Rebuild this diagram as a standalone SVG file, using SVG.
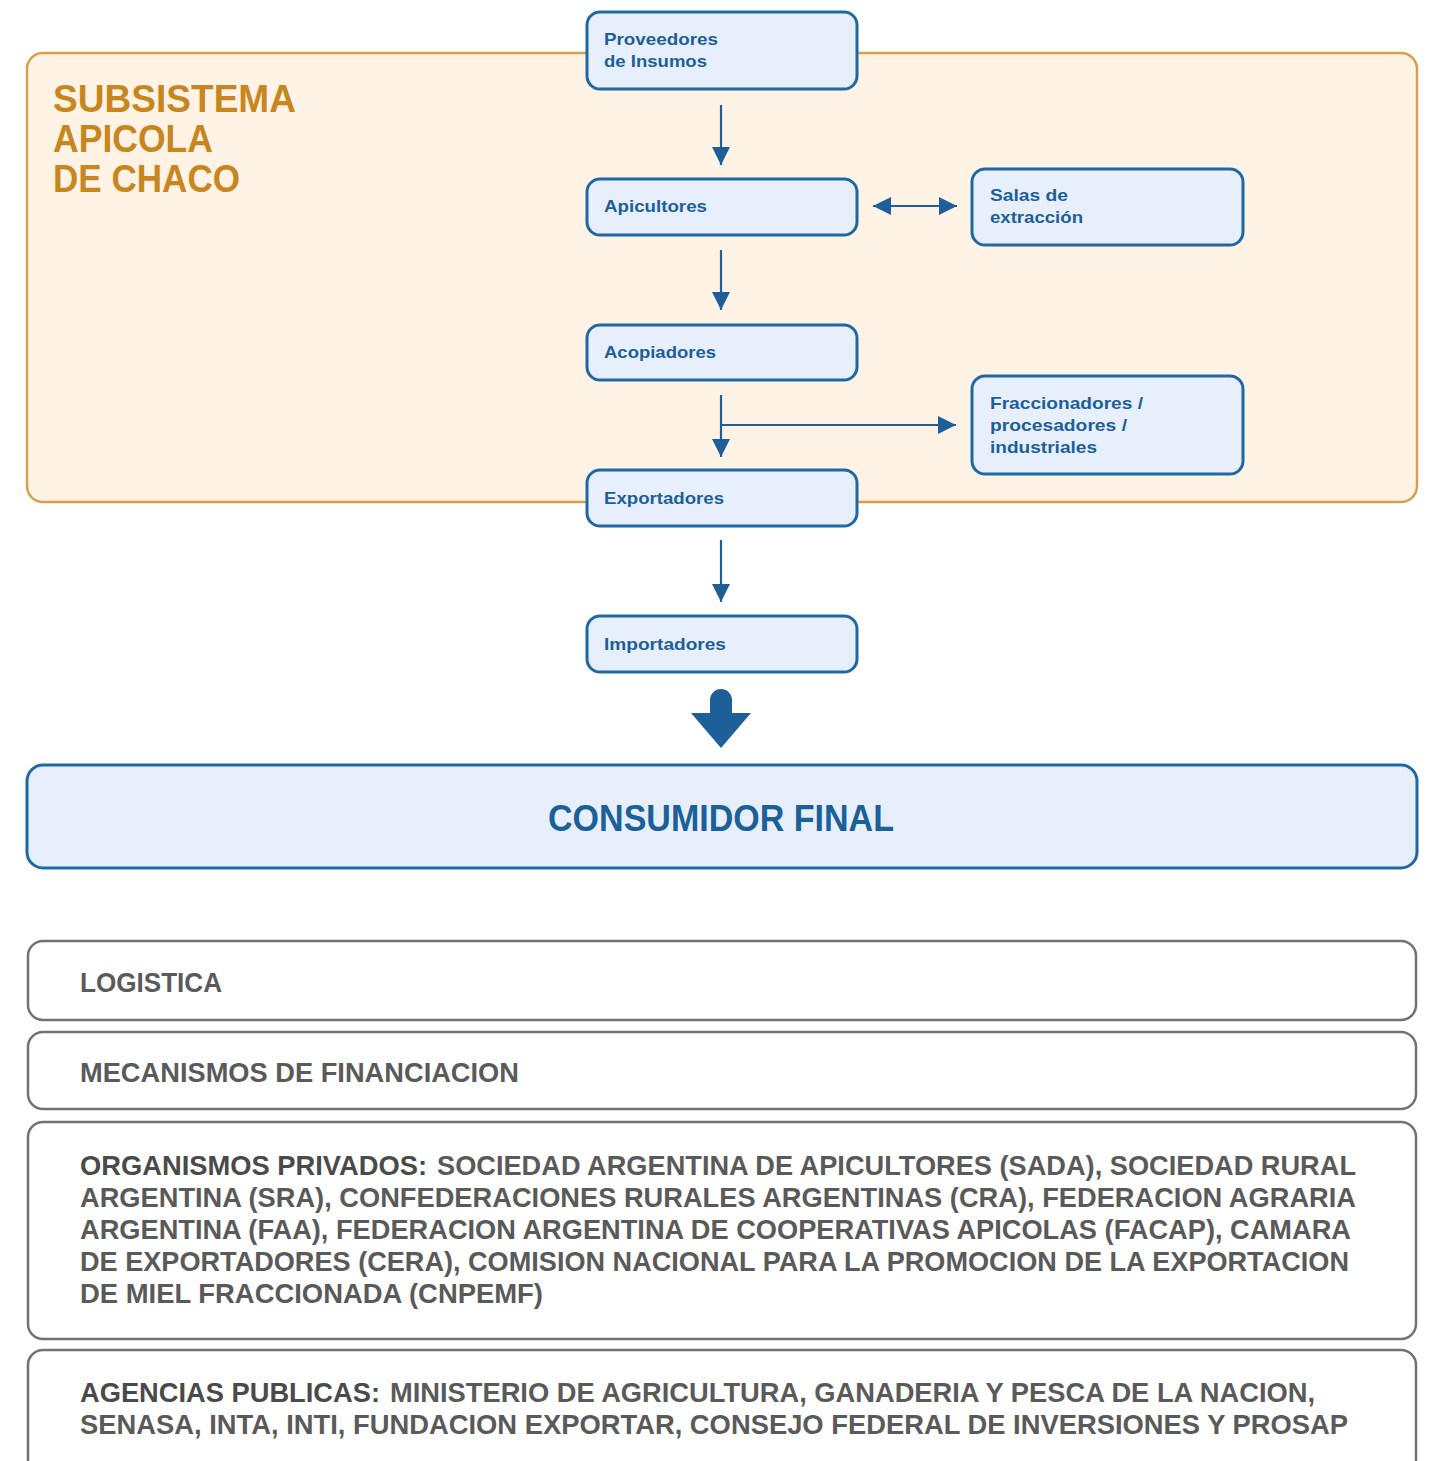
<svg xmlns="http://www.w3.org/2000/svg" width="1430" height="1461" viewBox="0 0 1430 1461">
<style>
.bg{fill:#ffffff}
.sub{fill:#fff3e6;stroke:#d9a04c;stroke-width:2.5}
.title{font-family:"Liberation Sans",Arial,sans-serif;font-weight:bold;font-size:38px;fill:#c8861e}
.node{fill:#e6effb;stroke:#1f68a3;stroke-width:3}
.nt{font-family:"Liberation Sans",Arial,sans-serif;font-weight:bold;font-size:17px;fill:#1d5f98}
.big{font-family:"Liberation Sans",Arial,sans-serif;font-weight:bold;font-size:36px;fill:#1b6199}
.gbox{fill:#ffffff;stroke:#727272;stroke-width:2.5}
.gt{font-family:"Liberation Sans",Arial,sans-serif;font-size:28px;fill:#5a5a5a;font-weight:bold}
.gb{font-family:"Liberation Sans",Arial,sans-serif;font-size:28px;fill:#4a4a4a;font-weight:bold}
.conn{stroke:#1f5f99;stroke-width:2.2;fill:none}
</style>
<defs>
<marker id="ah" viewBox="0 0 10 10" refX="10" refY="5" markerWidth="8" markerHeight="8" markerUnits="userSpaceOnUse" orient="auto-start-reverse">
<path d="M0,0 L10,5 L0,10 z" fill="#1f5f99"/>
</marker>
<marker id="ah2" viewBox="0 0 10 10" refX="10" refY="5" markerWidth="18" markerHeight="18" markerUnits="userSpaceOnUse" orient="auto-start-reverse">
<path d="M0,0 L10,5 L0,10 z" fill="#1f5f99"/>
</marker>
</defs>
<rect class="bg" x="0" y="0" width="1430" height="1461"/>

<g id="subsistema">
<rect class="sub" x="27" y="53" width="1390" height="449" rx="16"/>
<text class="title" x="53" y="112" textLength="243" lengthAdjust="spacingAndGlyphs">SUBSISTEMA</text>
<text class="title" x="53" y="152" textLength="160" lengthAdjust="spacingAndGlyphs">APICOLA</text>
<text class="title" x="53" y="192" textLength="187" lengthAdjust="spacingAndGlyphs">DE CHACO</text>
</g>

<g id="connectors">
<line class="conn" x1="721" y1="105" x2="721" y2="165" marker-end="url(#ah2)"/>
<line class="conn" x1="721" y1="250" x2="721" y2="310" marker-end="url(#ah2)"/>
<line class="conn" x1="721" y1="395" x2="721" y2="457" marker-end="url(#ah2)"/>
<line class="conn" x1="721" y1="425" x2="956" y2="425" marker-end="url(#ah2)"/>
<line class="conn" x1="873" y1="206" x2="957" y2="206" marker-start="url(#ah2)" marker-end="url(#ah2)"/>
<line class="conn" x1="721" y1="540" x2="721" y2="602" marker-end="url(#ah2)"/>
<path d="M710,700 a11,11 0 0 1 22,0 L732,713 L751,713 L721,748 L691,713 L710,713 z" fill="#1f5f99"/>
</g>

<g id="proveedores">
<rect class="node" x="587" y="12" width="270" height="77" rx="13"/>
<text class="nt" x="604" y="45" textLength="114" lengthAdjust="spacingAndGlyphs">Proveedores</text>
<text class="nt" x="604" y="67" textLength="103" lengthAdjust="spacingAndGlyphs">de Insumos</text>
</g>
<g id="apicultores">
<rect class="node" x="587" y="179" width="270" height="56" rx="13"/>
<text class="nt" x="604" y="212" textLength="103" lengthAdjust="spacingAndGlyphs">Apicultores</text>
</g>
<g id="salas">
<rect class="node" x="972" y="169" width="271" height="76" rx="13"/>
<text class="nt" x="990" y="201" textLength="78" lengthAdjust="spacingAndGlyphs">Salas de</text>
<text class="nt" x="990" y="223" textLength="93" lengthAdjust="spacingAndGlyphs">extracción</text>
</g>
<g id="acopiadores">
<rect class="node" x="587" y="325" width="270" height="55" rx="13"/>
<text class="nt" x="604" y="358" textLength="112" lengthAdjust="spacingAndGlyphs">Acopiadores</text>
</g>
<g id="fraccionadores">
<rect class="node" x="972" y="376" width="271" height="98" rx="13"/>
<text class="nt" x="990" y="409" textLength="153" lengthAdjust="spacingAndGlyphs">Fraccionadores /</text>
<text class="nt" x="990" y="431" textLength="137" lengthAdjust="spacingAndGlyphs">procesadores /</text>
<text class="nt" x="990" y="453" textLength="107" lengthAdjust="spacingAndGlyphs">industriales</text>
</g>
<g id="exportadores">
<rect class="node" x="587" y="470" width="270" height="56" rx="13"/>
<text class="nt" x="604" y="504" textLength="120" lengthAdjust="spacingAndGlyphs">Exportadores</text>
</g>
<g id="importadores">
<rect class="node" x="587" y="616" width="270" height="56" rx="13"/>
<text class="nt" x="604" y="650" textLength="122" lengthAdjust="spacingAndGlyphs">Importadores</text>
</g>

<g id="consumidor">
<rect class="node" x="27" y="765" width="1390" height="103" rx="16" stroke-width="2.5"/>
<text class="big" x="548" y="831" textLength="346" lengthAdjust="spacingAndGlyphs">CONSUMIDOR FINAL</text>
</g>

<g id="logistica">
<rect class="gbox" x="28" y="941" width="1388" height="79" rx="15"/>
<text class="gt" x="80" y="992" textLength="142" lengthAdjust="spacingAndGlyphs">LOGISTICA</text>
</g>
<g id="financiacion">
<rect class="gbox" x="28" y="1032" width="1388" height="77" rx="15"/>
<text class="gt" x="80" y="1082" textLength="439" lengthAdjust="spacingAndGlyphs">MECANISMOS DE FINANCIACION</text>
</g>
<g id="privados">
<rect class="gbox" x="28" y="1122" width="1388" height="217" rx="15"/>
<text class="gb" x="80" y="1175" textLength="347" lengthAdjust="spacingAndGlyphs">ORGANISMOS PRIVADOS:</text>
<text class="gt" x="437" y="1175" textLength="919" lengthAdjust="spacingAndGlyphs">SOCIEDAD ARGENTINA DE APICULTORES (SADA), SOCIEDAD RURAL</text>
<text class="gt" x="80" y="1207" textLength="1276" lengthAdjust="spacingAndGlyphs">ARGENTINA (SRA), CONFEDERACIONES RURALES ARGENTINAS (CRA), FEDERACION AGRARIA</text>
<text class="gt" x="80" y="1239" textLength="1271" lengthAdjust="spacingAndGlyphs">ARGENTINA (FAA), FEDERACION ARGENTINA DE COOPERATIVAS APICOLAS (FACAP), CAMARA</text>
<text class="gt" x="80" y="1271" textLength="1269" lengthAdjust="spacingAndGlyphs">DE EXPORTADORES (CERA), COMISION NACIONAL PARA LA PROMOCION DE LA EXPORTACION</text>
<text class="gt" x="80" y="1303" textLength="463" lengthAdjust="spacingAndGlyphs">DE MIEL FRACCIONADA (CNPEMF)</text>
</g>
<g id="publicas">
<rect class="gbox" x="28" y="1350" width="1388" height="130" rx="15"/>
<text class="gb" x="80" y="1402" textLength="300" lengthAdjust="spacingAndGlyphs">AGENCIAS PUBLICAS:</text>
<text class="gt" x="390" y="1402" textLength="925" lengthAdjust="spacingAndGlyphs">MINISTERIO DE AGRICULTURA, GANADERIA Y PESCA DE LA NACION,</text>
<text class="gt" x="80" y="1434" textLength="1268" lengthAdjust="spacingAndGlyphs">SENASA, INTA, INTI, FUNDACION EXPORTAR, CONSEJO FEDERAL DE INVERSIONES Y PROSAP</text>
</g>
</svg>
